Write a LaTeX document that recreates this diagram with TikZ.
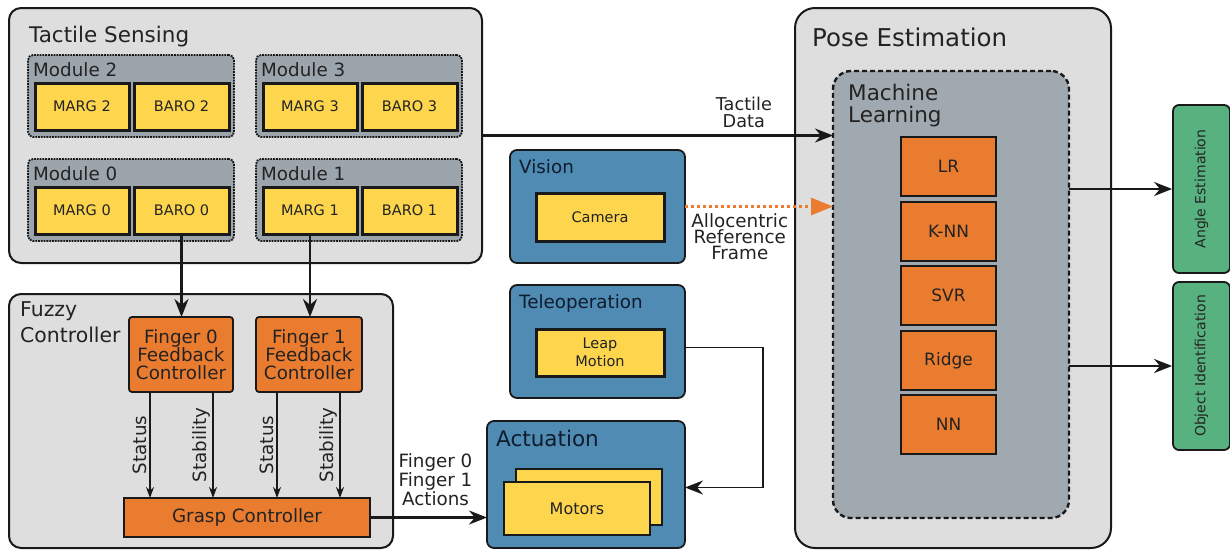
\documentclass[tikz,border=0pt]{standalone}
\usepackage{fontspec}
\setmainfont{DejaVu Sans}
\usetikzlibrary{arrows.meta,calc}
\definecolor{panelgray}{RGB}{222,222,222}
\definecolor{modgray}{RGB}{156,165,172}
\definecolor{mlgray}{RGB}{160,169,176}
\definecolor{sensyellow}{RGB}{253,214,78}
\definecolor{algoorange}{RGB}{234,124,48}
\definecolor{unitblue}{RGB}{79,139,179}
\definecolor{outgreen}{RGB}{88,178,128}
\definecolor{linedark}{RGB}{25,25,25}
\definecolor{textdark}{RGB}{35,35,35}
\definecolor{navytext}{RGB}{15,28,45}
\newcommand\fpose{\fontsize{24.5}{26}\selectfont}
\newcommand\fbig{\fontsize{21.5}{22}\selectfont}
\newcommand\ffuzzy{\fontsize{20.4}{26}\selectfont}
\newcommand\fmid{\fontsize{18.3}{17.5}\selectfont}
\newcommand\fsmall{\fontsize{14.5}{18}\selectfont}
\newcommand\falgo{\fontsize{17}{20}\selectfont}
\newcommand\fout{\fontsize{14}{16}\selectfont}

\begin{document}
\begin{tikzpicture}[x=1pt,y=-1pt,>={Stealth[length=18pt,width=14pt]},
    every node/.style={text=textdark},
    box/.style={draw=linedark,anchor=north west,inner sep=0pt,outer sep=0pt},
    panel/.style={box,fill=panelgray,line width=2pt,rounded corners=12pt},
    module/.style={box,fill=modgray,line width=1.8pt,densely dotted,rounded corners=5pt},
    sensor/.style={box,fill=sensyellow,line width=3pt,font=\fsmall},
    unit/.style={box,fill=unitblue,line width=1.8pt,rounded corners=7pt},
    ctrl/.style={box,fill=algoorange,line width=1.8pt,rounded corners=3pt,font=\fmid,align=center},
    algo/.style={box,fill=algoorange,line width=2pt,font=\falgo},
    output/.style={draw=linedark,fill=outgreen,line width=1.8pt,rounded corners=6pt,rotate=90,
        minimum width=168pt,minimum height=57pt,inner sep=0pt,font=\fout},
    title/.style={anchor=base west,inner sep=0pt},
    flow/.style={->,line width=2.2pt,draw=linedark},
    flowsmall/.style={-{Stealth[length=11pt,width=8pt]},line width=1.8pt,draw=linedark},
]
    \useasboundingbox (0,0) rectangle (1230,552);

    % Tactile sensing
    \node[panel,minimum width=473pt,minimum height=255pt] (tactile) at (9,8) {};
    \node[title,font=\fbig] (tactiletitle) at (29,42) {Tactile Sensing};
    \foreach \m/\x/\y in {2/28/55,3/256/55,0/28/159,1/256/159}{
        \node[module,minimum width=206pt,minimum height=82pt] (mod\m) at (\x,\y) {};
        \node[title,font=\fmid] (modtitle\m) at ($(mod\m.north west)+(5,21)$) {Module \m};
        \node[sensor,minimum width=94pt,minimum height=47pt] (marg\m) at ($(mod\m.north west)+(7,28)$) {MARG \m};
        \node[sensor,minimum width=95pt,minimum height=47pt] (baro\m) at ($(mod\m.north west)+(106,28)$) {BARO \m};
    }

    % Fuzzy controller
    \node[panel,minimum width=384pt,minimum height=254pt] (fuzzy) at (9,294) {};
    \node[anchor=north west,inner sep=0pt,align=left,font=\ffuzzy] (fuzzytitle) at (20,301) {Fuzzy\\Controller};
    \node[ctrl,minimum width=104pt,minimum height=75pt] (finger0) at (129,317) {Finger 0\\Feedback\\Controller};
    \node[ctrl,minimum width=106pt,minimum height=75pt] (finger1) at (256,317) {Finger 1\\Feedback\\Controller};
    \node[ctrl,rounded corners=0pt,minimum width=246pt,minimum height=39pt] (grasp) at (124,498) {Grasp Controller};

    % Vision, teleoperation, actuation
    \node[unit,minimum width=175pt,minimum height=113pt] (vision) at (510,150) {};
    \node[title,font=\fmid,text=navytext] (visiontitle) at (519,173) {Vision};
    \node[sensor,minimum width=128pt,minimum height=48pt] (camera) at (536,193) {Camera};
    \node[unit,minimum width=175pt,minimum height=113pt] (teleop) at (510,285) {};
    \node[title,font=\fmid,text=navytext] (teleoptitle) at (519,308) {Teleoperation};
    \node[sensor,minimum width=128pt,minimum height=47pt,align=center] (leap) at (536,329) {Leap\\Motion};
    \node[unit,minimum width=198pt,minimum height=127pt] (act) at (487,421) {};
    \node[title,font=\fbig,text=navytext] (acttitle) at (496,446) {Actuation};
    \node[sensor,line width=2.5pt,minimum width=146pt,minimum height=56pt] (motorsback) at (516,469) {};
    \node[sensor,line width=2.5pt,minimum width=146pt,minimum height=53pt,font=\fontsize{16}{18}\selectfont] (motors) at (504,482) {Motors};

    % Pose estimation
    \node[panel,rounded corners=20pt,minimum width=316pt,minimum height=540pt] (pose) at (795,8) {};
    \node[title,font=\fpose] (posetitle) at (812,46) {Pose Estimation};
    \node[box,fill=mlgray,line width=2.4pt,dash pattern=on 5pt off 3pt,rounded corners=18pt,
        minimum width=236pt,minimum height=447pt] (ml) at (833,71) {};
    \node[anchor=north west,inner sep=0pt,align=left,font=\fbig] (mltitle) at (848,84) {Machine\\Learning};
    \foreach \a/\lbl/\y in {lr/LR/137,knn/K-NN/202,svr/SVR/266,ridge/Ridge/331,nn/NN/395}
        \node[algo,minimum width=95pt,minimum height=59pt] (\a) at (901,\y) {\lbl};

    % Outputs
    \node[output] (angle) at (1201.5,189) {Angle Estimation};
    \node[output] (object) at (1201.5,366) {Object Identification};

    % Connections
    \draw[flow] (baro0.south) -- (baro0.south |- finger0.north);
    \draw[flow] (marg1.south) -- (marg1.south |- finger1.north);
    \foreach \f in {0,1}{
        \draw[flowsmall] ([xshift=21pt]finger\f.south west) -- ([xshift=21pt]finger\f.south west |- grasp.north)
            node[midway,rotate=90,anchor=south,inner sep=2pt,font=\fmid] {Status};
        \draw[flowsmall] ([xshift=84pt]finger\f.south west) -- ([xshift=84pt]finger\f.south west |- grasp.north)
            node[midway,rotate=90,anchor=south,inner sep=2pt,font=\fmid] {Stability};
    }
    \draw[flow] (grasp.east) -- (grasp.east -| act.west)
        node[pos=0.56,anchor=south,inner sep=0pt,yshift=11pt,align=center,font=\fmid] {Finger 0\\Finger 1\\Actions};
    \draw[flow,line width=1.8pt] ([yshift=-6pt]teleop.east) -- ++(78,0) |- ([yshift=-3pt]act.east);
    \draw[flow] (tactile.east) -- (tactile.east -| ml.west)
        node[pos=0.746,anchor=south,inner sep=0pt,yshift=7pt,align=center,font=\fontsize{17.7}{17}\selectfont] {Tactile\\Data};
    \draw[-{Triangle[length=22pt,width=17pt]},algoorange,line width=3pt,dash pattern=on 3pt off 3pt]
        (vision.east) -- (vision.east -| ml.west)
        node[pos=0.37,anchor=north,inner sep=0pt,yshift=-6pt,align=center,text=textdark,font=\fontsize{18.3}{16}\selectfont] {Allocentric\\Reference\\Frame};
    \draw[flow] (ml.east |- angle.center) -- (angle.north);
    \draw[flow] (ml.east |- object.center) -- (object.north);
\end{tikzpicture}
\end{document}
